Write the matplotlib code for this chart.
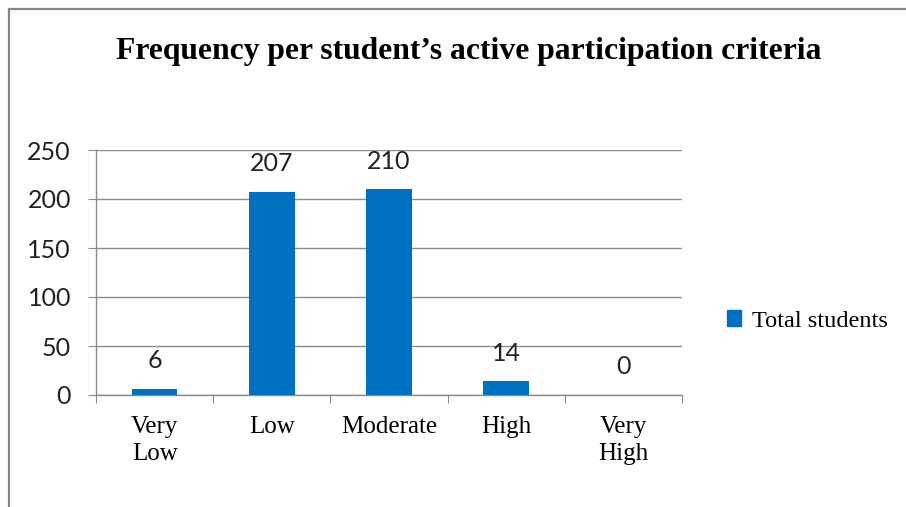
import matplotlib
matplotlib.use("Agg")
import matplotlib.pyplot as plt
from matplotlib.lines import Line2D
from matplotlib.patches import Patch

categories = ["Very\nLow", "Low", "Moderate", "High", "Very\nHigh"]
values = [6, 207, 210, 14, 0]
series_name = "Total students"
yticks = [0, 50, 100, 150, 200, 250]
title = "Frequency per student\u2019s active participation criteria"

W, H = 906, 507
fig = plt.figure(figsize=(W / 100, H / 100), dpi=100)

# outer frame (left and top edges visible)
fig.add_artist(Line2D([9 / W, 9 / W], [0, 1 - 9 / H], transform=fig.transFigure, color="#868686", lw=1.6))
fig.add_artist(Line2D([9 / W, 1], [1 - 9 / H, 1 - 9 / H], transform=fig.transFigure, color="#868686", lw=1.6))

x0, x1 = 96, 682
y0, y1 = 395, 150
ax = fig.add_axes([x0 / W, 1 - y0 / H, (x1 - x0) / W, (y0 - y1) / H])

blue = "#0070C0"
pos = list(range(len(categories)))
bars = ax.bar(pos, values, width=0.39, color=blue, zorder=3, label=series_name)
ax.set_xlim(-0.5, len(categories) - 0.5)
ax.set_ylim(0, 250)
ax.set_yticks(yticks)
ax.set_yticklabels([str(v) for v in yticks], fontsize=18, family="Lato", color="#222222")
ax.yaxis.grid(True, color="#8c8c8c", lw=1.0, zorder=0)
for s in ["top", "right"]:
    ax.spines[s].set_visible(False)
ax.spines["left"].set_color("#8c8c8c")
ax.spines["bottom"].set_color("#8c8c8c")
ax.spines["left"].set_linewidth(1.0)
ax.spines["bottom"].set_linewidth(1.0)
ax.tick_params(axis="y", length=6, color="#8c8c8c", pad=12)

# category boundary ticks
ax.set_xticks([i - 0.5 for i in range(len(categories) + 1)], minor=False)
ax.set_xticklabels([""] * (len(categories) + 1))
ax.tick_params(axis="x", length=6, color="#8c8c8c")
ax.set_xticks(pos, minor=True)
ax.set_xticklabels(categories, minor=True, fontsize=18, family="Liberation Serif", linespacing=1.3)
ax.tick_params(axis="x", which="minor", length=0, pad=15)
for lbl in ax.get_xticklabels(minor=True):
    lbl.set_verticalalignment("top")

for p, v in zip(pos, values):
    ax.annotate(str(v), (p, v), xytext=(0, 12), textcoords="offset points",
                ha="center", va="bottom", fontsize=18, family="Lato", color="#222222")

fig.text(469 / W, 1 - 52 / H, title, ha="center", va="center",
         fontsize=22.8, fontweight="bold", family="Liberation Serif")

handle = Patch(facecolor=blue, edgecolor=blue)
fig.legend([handle], [series_name], loc="center left", bbox_to_anchor=(705 / W, 1 - 321 / H),
           frameon=False, prop={"family": "Liberation Serif", "size": 17.5},
           handlelength=0.6, handleheight=0.6, handletextpad=0.45)

fig.savefig("out.png", dpi=100)
